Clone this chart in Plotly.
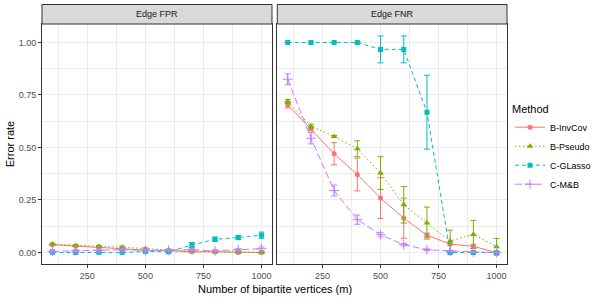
import plotly.graph_objects as go

m = [100, 200, 300, 400, 500, 600, 700, 800, 900, 1000]
methods = ["B-InvCov", "B-Pseudo", "C-GLasso", "C-M&B"]
colors = ["#F8766D", "#7CAE00", "#00BFC4", "#C77CFF"]
dashes = ["solid", "1.5px,2.5px", "4px,3px", "7px,3px"]
symbols = ["circle", "triangle-up", "square", "cross-thin"]
msizes = [5, 6, 5, 7]

# Edge FPR
invcov_fpr = [0.037, 0.030, 0.024, 0.018, 0.011, 0.008, 0.003, 0.003, 0.000, 0.000]
pseudo_fpr = [0.040, 0.033, 0.029, 0.025, 0.018, 0.013, 0.006, 0.002, 0.001, 0.000]
glasso_fpr = [0.000, 0.000, 0.000, 0.000, 0.005, 0.003, 0.035, 0.063, 0.071, 0.082]
mb_fpr = [0.005, 0.008, 0.011, 0.013, 0.010, 0.010, 0.013, 0.008, 0.013, 0.018]
invcov_fpr_sd = [0.003, 0.002, 0.002, 0.003, 0.002, 0.002, 0.002, 0.002, 0.001, 0.001]
pseudo_fpr_sd = [0.004, 0.003, 0.004, 0.006, 0.004, 0.003, 0.003, 0.002, 0.002, 0.001]
glasso_fpr_sd = [0.000, 0.000, 0.000, 0.000, 0.003, 0.003, 0.012, 0.010, 0.010, 0.015]
mb_fpr_sd = [0.008, 0.005, 0.005, 0.004, 0.004, 0.004, 0.005, 0.005, 0.005, 0.008]

# Edge FNR
invcov_fnr = [0.703, 0.589, 0.470, 0.371, 0.259, 0.163, 0.082, 0.040, 0.029, 0.000]
pseudo_fnr = [0.719, 0.601, 0.552, 0.494, 0.378, 0.227, 0.140, 0.054, 0.086, 0.027]
glasso_fnr = [1.000, 1.000, 1.000, 1.000, 0.967, 0.967, 0.668, 0.000, 0.000, 0.000]
mb_fnr = [0.825, 0.544, 0.295, 0.156, 0.084, 0.037, 0.013, 0.006, 0.002, 0.001]
invcov_fnr_sd = [0.015, 0.010, 0.053, 0.078, 0.097, 0.096, 0.010, 0.005, 0.010, 0.005]
pseudo_fnr_sd = [0.010, 0.010, 0.005, 0.038, 0.078, 0.087, 0.076, 0.052, 0.067, 0.040]
glasso_fnr_sd = [0.000, 0.000, 0.000, 0.000, 0.064, 0.064, 0.176, 0.003, 0.003, 0.003]
mb_fnr_sd = [0.026, 0.027, 0.026, 0.022, 0.010, 0.006, 0.004, 0.003, 0.002, 0.002]

fpr = [invcov_fpr, pseudo_fpr, glasso_fpr, mb_fpr]
fpr_sd = [invcov_fpr_sd, pseudo_fpr_sd, glasso_fpr_sd, mb_fpr_sd]
fnr = [invcov_fnr, pseudo_fnr, glasso_fnr, mb_fnr]
fnr_sd = [invcov_fnr_sd, pseudo_fnr_sd, glasso_fnr_sd, mb_fnr_sd]

panels = ["Edge FPR", "Edge FNR"]
x_ticks = [250, 500, 750, 1000]
y_ticks = [0, 0.25, 0.5, 0.75, 1.0]
y_tick_text = ["0.00", "0.25", "0.50", "0.75", "1.00"]

fig = go.Figure()

for p, (vals, sds, xa, ya) in enumerate([(fpr, fpr_sd, "x", "y"), (fnr, fnr_sd, "x2", "y2")]):
    for i, name in enumerate(methods):
        fig.add_trace(go.Scatter(
            x=m, y=vals[i], name=name, mode="lines+markers",
            xaxis=xa, yaxis=ya, legendgroup=name, showlegend=(p == 1),
            line=dict(color=colors[i], width=1, dash=dashes[i]),
            marker=dict(symbol=symbols[i], size=msizes[i], color=colors[i],
                        line=dict(color=colors[i], width=1 if symbols[i] == "cross-thin" else 0)),
            error_y=dict(type="data", array=sds[i], symmetric=True, color=colors[i],
                         thickness=1, width=3),
        ))

grid = "#EBEBEB"
axis_common = dict(
    showline=True, linecolor="#333333", linewidth=1, mirror=True,
    gridcolor=grid, gridwidth=1, zeroline=False,
    tickfont=dict(family="Liberation Sans, Arial", size=9, color="#4D4D4D"),
)
xcommon = dict(axis_common, range=[55, 1045], tickvals=x_ticks,
               ticks="outside", ticklen=3, tickcolor="#333333",
               minor=dict(tickvals=[125, 375, 625, 875], showgrid=True, gridcolor=grid, gridwidth=0.5, ticks=""))
ycommon = dict(axis_common, range=[-0.055, 1.088], tickvals=y_ticks, ticktext=y_tick_text,
               minor=dict(tickvals=[0.125, 0.375, 0.625, 0.875], showgrid=True, gridcolor=grid, gridwidth=0.5, ticks=""))

d1 = [0, 0.4946]
d2 = [0.506, 1]
fig.update_layout(
    width=600, height=300,
    margin=dict(l=42, r=93, t=24, b=36, autoexpand=False),
    paper_bgcolor="white", plot_bgcolor="white",
    font=dict(family="Liberation Sans, Arial", color="black"),
    xaxis=dict(xcommon, domain=d1, anchor="y"),
    xaxis2=dict(xcommon, domain=d2, anchor="y2"),
    yaxis=dict(ycommon, anchor="x", ticks="outside", ticklen=3, tickcolor="#333333",
               title=dict(text="Error rate", font=dict(size=11, color="black"), standoff=1)),
    yaxis2=dict(ycommon, anchor="x2", matches="y", showticklabels=False, ticks=""),
    legend=dict(
        title=dict(text="Method", font=dict(size=11, color="black")),
        font=dict(size=9, color="black"),
        x=1.0065, xanchor="left", y=0.69, yanchor="top",
        itemwidth=30,
        bgcolor="rgba(0,0,0,0)", traceorder="grouped", tracegroupgap=0,
    ),
)

strip_h = 19.5 / 240
for d, label in zip([d1, d2], panels):
    fig.add_shape(type="rect", xref="paper", yref="paper", x0=d[0], x1=d[1], y0=1, y1=1 + strip_h,
                  fillcolor="#D9D9D9", line=dict(color="#333333", width=1), layer="above")
    fig.add_annotation(x=(d[0] + d[1]) / 2, y=1 + strip_h / 2, xref="paper", yref="paper",
                       text=label, showarrow=False, font=dict(size=9, color="#1A1A1A"),
                       xanchor="center", yanchor="middle")

fig.add_annotation(x=0.5, y=-0.105, xref="paper", yref="paper", yanchor="middle",
                   text="Number of bipartite vertices (m)", showarrow=False,
                   font=dict(size=11, color="black"))

fig.write_html("out.html", config={"displayModeBar": False},
               post_script="document.body.style.margin='0px';")
